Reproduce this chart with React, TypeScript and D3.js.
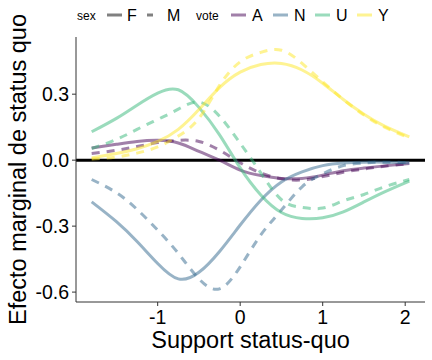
import React from 'react';
import * as d3 from 'd3';

// Support status-quo (x) grid the curves were read at
const xs = [-1.8, -1.5, -1.25, -1.0, -0.75, -0.5, -0.25, 0, 0.25, 0.5, 0.75, 1.0, 1.25, 1.5, 1.75, 2.05];

// marginal effects, per vote x sex
const aF = [0.055, 0.072, 0.085, 0.09, 0.078, 0.04, 0.0, -0.045, -0.07, -0.083, -0.083, -0.068, -0.048, -0.036, -0.026, -0.015];
const aM = [0.03, 0.045, 0.062, 0.08, 0.09, 0.085, 0.045, -0.012, -0.058, -0.085, -0.09, -0.075, -0.055, -0.04, -0.028, -0.016];
const nF = [-0.19, -0.28, -0.37, -0.47, -0.54, -0.51, -0.415, -0.295, -0.182, -0.099, -0.053, -0.025, -0.013, -0.009, -0.009, -0.012];
const nM = [-0.088, -0.148, -0.224, -0.318, -0.424, -0.54, -0.585, -0.485, -0.34, -0.227, -0.121, -0.062, -0.025, -0.013, -0.009, -0.012];
const uF = [0.129, 0.19, 0.25, 0.305, 0.32, 0.24, 0.115, -0.035, -0.158, -0.238, -0.265, -0.262, -0.235, -0.19, -0.144, -0.095];
const uM = [0.053, 0.094, 0.14, 0.185, 0.232, 0.264, 0.2, 0.077, -0.058, -0.18, -0.215, -0.218, -0.185, -0.156, -0.121, -0.088];
const yF = [0.01, 0.03, 0.052, 0.085, 0.14, 0.23, 0.33, 0.4, 0.435, 0.44, 0.41, 0.35, 0.276, 0.209, 0.155, 0.106];
const yM = [0.005, 0.014, 0.032, 0.06, 0.11, 0.19, 0.34, 0.447, 0.49, 0.5, 0.44, 0.356, 0.276, 0.205, 0.15, 0.101];

const votes = ['A', 'N', 'U', 'Y'];
const sexes = ['F', 'M'];
const voteColors = ['#440154', '#31688E', '#35B779', '#FDE725'];
const xTicks = [-1, 0, 1, 2];
const yTicks = [0.3, 0.0, -0.3, -0.6];

const series = [
  { vote: 'A', sex: 'F', vals: aF },
  { vote: 'A', sex: 'M', vals: aM },
  { vote: 'N', sex: 'F', vals: nF },
  { vote: 'N', sex: 'M', vals: nM },
  { vote: 'U', sex: 'F', vals: uF },
  { vote: 'U', sex: 'M', vals: uM },
  { vote: 'Y', sex: 'F', vals: yF },
  { vote: 'Y', sex: 'M', vals: yM },
];

const W = 432;
const H = 360;
const font = '"Liberation Sans", Arial, sans-serif';

export default function App() {
  const left = 76, right = 425, top = 37, bottom = 302;

  const x = d3.scaleLinear().domain([-1.99, 2.24]).range([left, right]);
  const y = d3.scaleLinear().domain([-0.645, 0.56]).range([bottom, top]);
  const color = d3.scaleOrdinal<string, string>().domain(votes).range(voteColors);

  const line = d3.line<number>()
    .x((_, i) => x(xs[i]))
    .y(d => y(d))
    .curve(d3.curveNatural);

  return (
    <svg width={W} height={H} style={{ position: 'absolute', left: 0, top: 0, fontFamily: font }}>
      <rect width={W} height={H} fill="#fff" />

      {/* zero reference */}
      <line x1={left} x2={right} y1={y(0)} y2={y(0)} stroke="#000" strokeWidth={3} />

      {series.map(s => (
        <path
          key={s.vote + s.sex}
          d={line(s.vals) || ''}
          fill="none"
          stroke={color(s.vote)}
          strokeOpacity={0.5}
          strokeWidth={3}
          strokeDasharray={s.sex === 'M' ? '8 7' : undefined}
        />
      ))}

      {/* axes */}
      <line x1={left} x2={left} y1={top} y2={bottom} stroke="#333" strokeWidth={1} />
      <line x1={left} x2={right} y1={bottom} y2={bottom} stroke="#333" strokeWidth={1} />
      {yTicks.map(t => (
        <g key={t}>
          <line x1={left - 4} x2={left} y1={y(t)} y2={y(t)} stroke="#333" />
          <text x={left - 7} y={y(t)} dy="0.36em" textAnchor="end" fontSize={19.5} fill="#000">
            {t.toFixed(1)}
          </text>
        </g>
      ))}
      {xTicks.map(t => (
        <g key={t}>
          <line x1={x(t)} x2={x(t)} y1={bottom} y2={bottom + 4} stroke="#333" />
          <text x={x(t)} y={bottom + 22} textAnchor="middle" fontSize={19.5} fill="#000">
            {t}
          </text>
        </g>
      ))}
      <text x={(left + right) / 2} y={348} textAnchor="middle" fontSize={23.5} fill="#000">
        Support status-quo
      </text>
      <text
        transform={`translate(26,${(top + bottom) / 2}) rotate(-90)`}
        textAnchor="middle"
        fontSize={23.5}
        fill="#000"
      >
        Efecto marginal de status quo
      </text>

      {/* legend */}
      <g fontSize={16} fill="#000">
        <text x={77} y={20} fontSize={12}>sex</text>
        <line x1={107} x2={122} y1={15} y2={15} stroke="#808080" strokeWidth={3} />
        <text x={127} y={21}>{sexes[0]}</text>
        <line x1={147} x2={153} y1={15} y2={15} stroke="#808080" strokeWidth={3} />
        <text x={167} y={21}>{sexes[1]}</text>
        <text x={196} y={20} fontSize={12}>vote</text>
        {votes.map((v, i) => (
          <g key={v} transform={`translate(${231 + i * 42},0)`}>
            <line x1={0} x2={15} y1={15} y2={15} stroke={color(v)} strokeOpacity={0.5} strokeWidth={3} />
            <text x={21} y={21}>{v}</text>
          </g>
        ))}
      </g>
    </svg>
  );
}
